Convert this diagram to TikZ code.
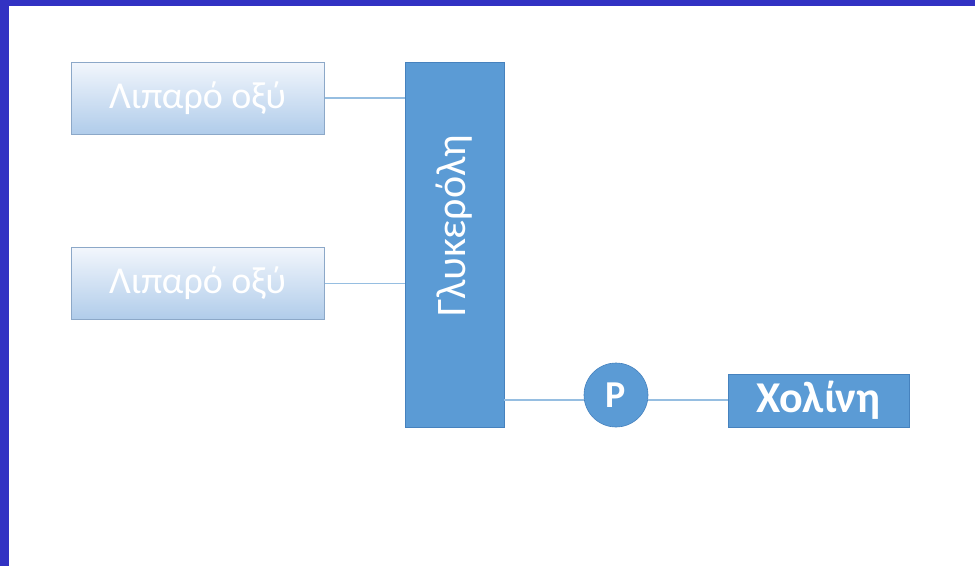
\documentclass[tikz,border=0pt]{standalone}
\usepackage{fontspec}
\setmainfont{Carlito}
\definecolor{frame}{RGB}{50,50,195}
\definecolor{mid}{RGB}{91,155,213}
\definecolor{midline}{RGB}{70,130,190}
\definecolor{linkc}{RGB}{150,190,225}
\definecolor{gtop}{RGB}{242,246,252}
\definecolor{gbot}{RGB}{176,204,234}
\definecolor{gborder}{RGB}{140,168,200}
\tikzset{
  acid/.style={draw=gborder, line width=1pt, top color=gtop, bottom color=gbot,
    minimum width=253pt, minimum height=72pt, inner sep=0pt, text=white,
    font=\fontsize{38}{42}\selectfont},
  solid/.style={fill=mid, draw=midline, line width=0.6pt, inner sep=0pt, text=white},
  link/.style={draw=linkc, line width=1.2pt}
}
\begin{document}
\begin{tikzpicture}[x=1pt,y=-1pt]
\useasboundingbox (0,0) rectangle (975,566);
\fill[white] (0,0) rectangle (975,566);
\fill[frame] (0,0) rectangle (975,6);
\fill[frame] (0,0) rectangle (9,566);
\node[acid] (a1) at (197.5,98) {Λιπαρό οξύ};
\node[acid] (a2) at (197.5,283.5) {Λιπαρό οξύ};
\node[solid, minimum width=99pt, minimum height=365pt] (g) at (454.5,244.5) {};
\node[text=white, rotate=90, font=\fontsize{42}{46}\selectfont] (gt) at (454.5,226) {Γλυκερόλη};
\node[solid, circle, minimum size=64pt, font=\bfseries\fontsize{38}{42}\selectfont] (p) at (616,395) {P};
\node[solid, minimum width=181pt, minimum height=53pt, font=\bfseries\fontsize{44}{48}\selectfont] (c) at (818.5,400.5) {Χολίνη};
\draw[link] (a1.east) -- (a1.east -| g.west);
\draw[link] (a2.east) -- (a2.east -| g.west);
\coordinate (gr) at (504,400);
\draw[link] (gr) -- (p.west |- gr);
\draw[link] (p.east |- gr) -- (c.west |- gr);
\end{tikzpicture}
\end{document}
